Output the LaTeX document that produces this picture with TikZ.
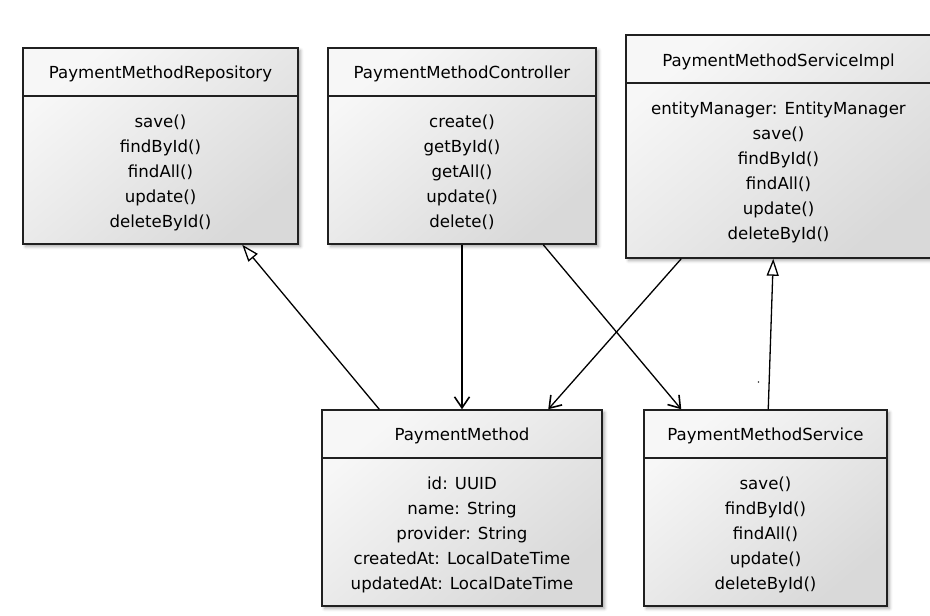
\documentclass[tikz,border=0pt]{standalone}
\usepackage{fontspec}
\setmainfont{DejaVu Sans}
\usetikzlibrary{arrows.meta,shadows.blur,calc}
\definecolor{bordercol}{HTML}{202020}
\tikzset{
  umlbox/.style={draw=bordercol, line width=1.5pt, rectangle, inner sep=0pt,
    top color=white!97!black, bottom color=white!85!black, shading angle=40,
    blur shadow={shadow xshift=2.5pt, shadow yshift=-2.5pt, shadow blur radius=3pt, shadow opacity=35}},
  sepline/.style={draw=bordercol, line width=1.3pt},
  txt/.style={inner sep=0pt, align=center, font=\fontsize{16.6}{25}\selectfont},
  dep/.style={line width=1.3pt, -{Straight Barb[length=11pt,width=15pt,line width=1.6pt]}},
  inh/.style={line width=1.3pt, -{Triangle[length=17pt,width=12pt,open,fill=white,line width=1.3pt]}}
}
\begin{document}
\begin{tikzpicture}[x=1pt,y=-1pt]
\useasboundingbox (0,0) rectangle (930,616);
% boxes
\node[umlbox, minimum width=275pt, minimum height=196pt] (repo) at (160.5,146) {};
\node[umlbox, minimum width=268pt, minimum height=196pt] (ctrl) at (462,146) {};
\node[umlbox, minimum width=306pt, minimum height=223pt] (impl) at (779,146.5) {};
\node[umlbox, minimum width=280pt, minimum height=196pt] (pm) at (462,508) {};
\node[umlbox, minimum width=243pt, minimum height=196pt] (svc) at (765.5,508) {};
% separators
\draw[sepline] (repo.west |- 0,96) -- (repo.east |- 0,96);
\draw[sepline] (ctrl.west |- 0,96) -- (ctrl.east |- 0,96);
\draw[sepline] (impl.west |- 0,83) -- (impl.east |- 0,83);
\draw[sepline] (pm.west |- 0,458) -- (pm.east |- 0,458);
\draw[sepline] (svc.west |- 0,458) -- (svc.east |- 0,458);
% texts
\node[txt] (repoT) at (160.5,73.5) {PaymentMethodRepository};
\node[txt] (repoB) at (160.5,172.5) {save()\\findById()\\findAll()\\update()\\deleteById()};
\node[txt] (ctrlT) at (462,73.5) {PaymentMethodController};
\node[txt] (ctrlB) at (462,172.5) {create()\\getById()\\getAll()\\update()\\delete()};
\node[txt] (implT) at (778.5,61.5) {PaymentMethodServiceImpl};
\node[txt] (implB) at (778.5,172) {entityManager: EntityManager\\save()\\findById()\\findAll()\\update()\\deleteById()};
\node[txt] (pmT) at (462,435.5) {PaymentMethod};
\node[txt] (pmB) at (462,534.5) {id: UUID\\name: String\\provider: String\\createdAt: LocalDateTime\\updatedAt: LocalDateTime};
\node[txt] (svcT) at (765.5,435.5) {PaymentMethodService};
\node[txt] (svcB) at (765.5,534.5) {save()\\findById()\\findAll()\\update()\\deleteById()};
% connectors
\draw[inh] ($(pm.north west)+(58,0)$) -- ($(repo.south west)+(220,0)$);
\draw[dep] (ctrl.south) -- (pm.north);
\draw[dep] ($(ctrl.south west)+(216,0)$) -- ($(svc.north west)+(38,0)$);
\draw[dep] ($(impl.south west)+(56,0)$) -- ($(pm.north west)+(227,0)$);
\draw[inh] ($(svc.north west)+(125,0)$) -- ($(impl.south west)+(148,0)$);
\fill[black!80] (758.5,382) circle (0.8pt);
\end{tikzpicture}
\end{document}
